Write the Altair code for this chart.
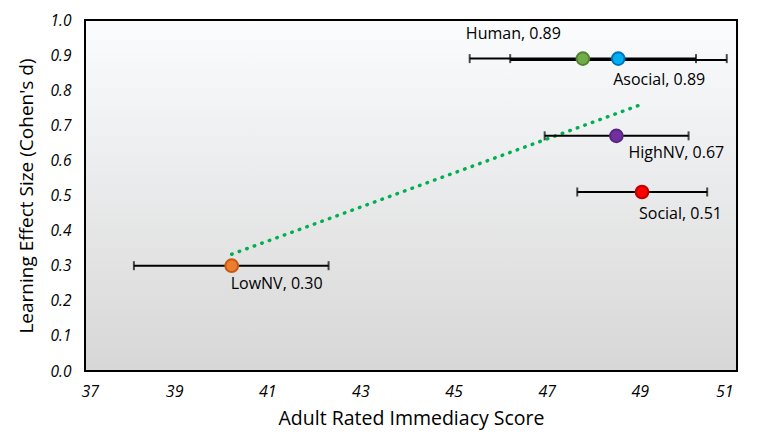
import altair as alt
import pandas as pd

groups = ["Human", "Asocial", "HighNV", "Social", "LowNV"]
score = [47.69, 48.45, 48.41, 48.96, 40.15]
effect = [0.89, 0.89, 0.67, 0.51, 0.30]
ci_low = [45.26, 46.13, 46.87, 47.57, 38.05]
ci_high = [50.12, 50.78, 49.96, 50.36, 42.23]
fills = ["#70ad47", "#00b0f0", "#7030a0", "#ff0000", "#ed7d31"]
strokes = ["#548235", "#0070c0", "#5a2780", "#c00000", "#c55a11"]
x_ticks = [37, 39, 41, 43, 45, 47, 49, 51]
y_ticks = [0.0, 0.1, 0.2, 0.3, 0.4, 0.5, 0.6, 0.7, 0.8, 0.9, 1.0]

df = pd.DataFrame({"group": groups, "score": score, "effect": effect,
                   "ci_low": ci_low, "ci_high": ci_high})
df["label"] = [f"{g}, {e:.2f}" for g, e in zip(groups, effect)]

FONT = "Open Sans"
x_scale = alt.Scale(domain=[37, 51], nice=False, zero=False)
y_scale = alt.Scale(domain=[0, 1], nice=False)

xenc = alt.X("score:Q", scale=x_scale,
             axis=alt.Axis(values=x_ticks, title="Adult Rated Immediacy Score",
                           labelFontStyle="italic", labelFontSize=16, labelFont=FONT,
                           labelPadding=12, labelOffset=-4, ticks=False, domain=False,
                           titleFont=FONT, titleFontSize=19.5, titleFontWeight="normal",
                           titlePadding=10, gridColor="#cfcfcf", gridWidth=1.2,
                           labelColor="#000", titleColor="#000"))
yenc = alt.Y("effect:Q", scale=y_scale,
             axis=alt.Axis(values=y_ticks, format=".1f", title="Learning Effect Size (Cohen's d)",
                           labelFontStyle="italic", labelFontSize=15.5, labelFont=FONT,
                           labelPadding=14, ticks=False, domain=False,
                           titleFont=FONT, titleFontSize=19, titleFontWeight="normal",
                           titlePadding=14, gridColor="#cfcfcf", gridWidth=1.2,
                           labelColor="#000", titleColor="#000"))

gradient = alt.LinearGradient(
    gradient="linear", x1=0, y1=0, x2=0, y2=1,
    stops=[alt.GradientStop(offset=0, color="#fbfcfe"),
           alt.GradientStop(offset=1, color="#d7d7d7")],
)

one = pd.DataFrame({"a": [0]})
shadow = alt.Chart(one).mark_rect(color="#b5b5b5", xOffset=3, yOffset=3, opacity=0.8).encode(
    x=alt.value(0), x2=alt.value("width"), y=alt.value(0), y2=alt.value("height")
)
bg = alt.Chart(one).mark_rect(fill=gradient, stroke="black", strokeWidth=2).encode(
    x=alt.value(0), x2=alt.value("width"), y=alt.value(0), y2=alt.value("height")
)

base = alt.Chart(df)

trend = base.transform_regression("score", "effect").mark_line(
    color="#00b050", strokeWidth=3.5, strokeDash=[0.5, 7.5], strokeCap="round"
).encode(x=xenc, y=yenc)

rules = base.transform_filter(alt.datum.group != "Asocial").mark_rule(
    color="black", strokeWidth=2
).encode(x=alt.X("ci_low:Q", scale=x_scale), x2="ci_high:Q", y=yenc)

rules_asoc = base.transform_filter(alt.datum.group == "Asocial").mark_rule(
    color="black", strokeWidth=2, yOffset=1.5
).encode(x=alt.X("ci_low:Q", scale=x_scale), x2="ci_high:Q", y=yenc)

caps = base.transform_fold(["ci_low", "ci_high"], as_=["end", "value"]).mark_tick(
    orient="vertical", size=9, thickness=2, color="black"
).encode(x=alt.X("value:Q", scale=x_scale), y=yenc)

points = base.mark_circle(size=160, strokeWidth=2, opacity=1).encode(
    x=xenc, y=yenc,
    fill=alt.Fill("group:N", scale=alt.Scale(domain=groups, range=fills), legend=None),
    stroke=alt.Stroke("group:N", scale=alt.Scale(domain=groups, range=strokes), legend=None),
)

label_offsets = {
    "Human": (-117, -25),
    "Asocial": (-5, 21),
    "HighNV": (12, 17),
    "Social": (-3, 22),
    "LowNV": (-1, 18),
}
labels = []
for g, (dx, dy) in label_offsets.items():
    labels.append(
        base.transform_filter(alt.datum.group == g).mark_text(
            align="left", baseline="middle", dx=dx, dy=dy, font=FONT, fontSize=16, color="#000"
        ).encode(x=xenc, y=yenc, text="label:N")
    )

chart = alt.layer(shadow, bg, trend, rules, rules_asoc, caps, points, *labels).properties(
    width=652, height=351,
    autosize=alt.AutoSizeParams(type="none"),
    padding={"left": 77, "top": 12, "right": 13, "bottom": 59},
    background="white",
).configure_view(stroke=None)

chart.save("out.html", embed_options={"renderer": "svg", "actions": False})
